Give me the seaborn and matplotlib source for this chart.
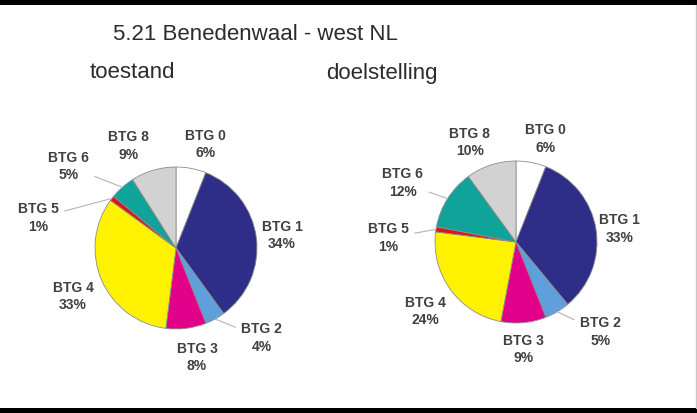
import numpy as np
import matplotlib
matplotlib.use("Agg")
import matplotlib.pyplot as plt
import seaborn as sns
from matplotlib.patches import Rectangle
from matplotlib.lines import Line2D

# --- data -------------------------------------------------------------
title = "5.21 Benedenwaal - west NL"
panel_titles = ["toestand", "doelstelling"]
categories = ["BTG 0", "BTG 1", "BTG 2", "BTG 3", "BTG 4", "BTG 5", "BTG 6", "BTG 8"]
toestand = [6, 34, 4, 8, 33, 1, 5, 9]
doelstelling = [6, 33, 5, 9, 24, 1, 12, 10]

# --- styling / layout ---------------------------------------------------
slice_colors = ["#ffffff", "#2e2e88", "#5e9fdc", "#e2008a",
                "#fff200", "#d9161c", "#10a39a", "#d2d2d2"]

# label centres relative to each pie centre, in units of the pie radius
label_xy_left = [(0.36, 1.28), (1.31, 0.15), (1.06, -1.11), (0.26, -1.35),
                 (-1.27, -0.60), (-1.70, 0.37), (-1.33, 1.01), (-0.59, 1.26)]
label_xy_right = [(0.36, 1.27), (1.28, 0.16), (1.04, -1.11), (0.09, -1.33),
                  (-1.12, -0.86), (-1.58, 0.05), (-1.40, 0.73), (-0.57, 1.23)]
with_leader = {"BTG 2", "BTG 5", "BTG 6"}

sns.set_theme(style="white")
plt.rcParams["font.family"] = ["Liberation Sans", "DejaVu Sans"]

W, H = 697, 413
fig = plt.figure(figsize=(W / 100, H / 100), dpi=100)
fig.patch.set_facecolor("white")

RADIUS_PX = 81
HALF_PX = 130


def px_axes(cx, cy):
    return fig.add_axes([(cx - HALF_PX) / W, 1 - (cy + HALF_PX) / H,
                         2 * HALF_PX / W, 2 * HALF_PX / H])


def draw_pie(ax, values, label_xy):
    wedges, _ = ax.pie(values, colors=slice_colors, startangle=90,
                       counterclock=False,
                       wedgeprops=dict(edgecolor="#8c8c8c", linewidth=0.6))
    lim = HALF_PX / RADIUS_PX
    ax.set_xlim(-lim, lim)
    ax.set_ylim(-lim, lim)
    ax.set_aspect("equal")
    ax.axis("off")
    for w, cat, val, (lx, ly) in zip(wedges, categories, values, label_xy):
        text = f"{cat}\n{val}%"
        kw = dict(ha="center", va="center", fontsize=10, fontweight="bold",
                  color="#404040", linespacing=1.3, annotation_clip=False)
        if cat in with_leader:
            mid = np.deg2rad((w.theta1 + w.theta2) / 2)
            ax.annotate(text, xy=(np.cos(mid), np.sin(mid)), xytext=(lx, ly),
                        arrowprops=dict(arrowstyle="-", color="#b4b4b4",
                                        lw=0.8, shrinkA=2, shrinkB=0),
                        **kw)
        else:
            ax.annotate(text, xy=(lx, ly), **kw)


draw_pie(px_axes(176, 248), toestand, label_xy_left)
draw_pie(px_axes(516, 242), doelstelling, label_xy_right)

# titles
fig.text(255 / W, 1 - 34 / H, title, ha="center", va="center",
         fontsize=16, color="#2b2b2b")
fig.text(132 / W, 1 - 73 / H, panel_titles[0], ha="center", va="center",
         fontsize=16, color="#2b2b2b")
fig.text(382 / W, 1 - 73 / H, panel_titles[1], ha="center", va="center",
         fontsize=16, color="#2b2b2b")

# frame bars
fig.add_artist(Rectangle((0, 1 - 5 / H), 1, 5 / H, transform=fig.transFigure,
                         facecolor="black", edgecolor="none"))
fig.add_artist(Rectangle((0, 0), 1, 5 / H, transform=fig.transFigure,
                         facecolor="black", edgecolor="none"))
fig.add_artist(Line2D([695.5 / W, 695.5 / W], [5 / H, 1 - 5 / H],
                      transform=fig.transFigure, color="#c8c8c8", lw=1))

fig.savefig("out.png", dpi=100, facecolor="white")
